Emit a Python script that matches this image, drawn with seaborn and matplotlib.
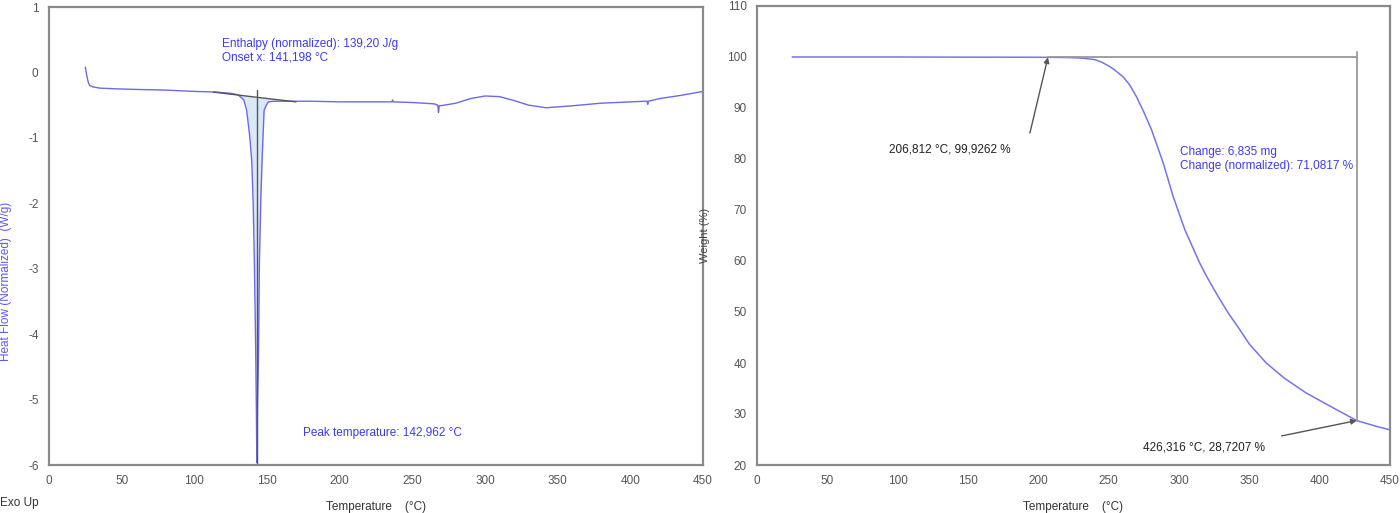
import matplotlib
matplotlib.use("Agg")
import matplotlib.pyplot as plt
import seaborn as sns
import numpy as np
import pandas as pd
from matplotlib.ticker import MultipleLocator

sns.set_style("white")
plt.rcParams['font.family'] = ['Liberation Sans', 'DejaVu Sans']
plt.rcParams['axes.unicode_minus'] = False

# ---------------- data ----------------
dsc_temp = [25, 26, 27, 28, 30, 35, 45, 60, 80, 100, 115, 125, 130, 134, 136, 138,
            139.5, 140.5, 141.3, 142.2, 142.7, 143.0, 143.5, 144.1, 144.8, 145.8, 146.6,
            148, 149.5, 151, 155, 165, 180, 200, 220, 236, 236.4, 236.8, 250, 265,
            267.5, 268, 268.5, 272, 280, 290, 300, 310, 320, 330, 342, 360, 380, 400,
            410, 411.5, 412, 412.5, 420, 435, 450]
dsc_flow = [0.08, -0.05, -0.15, -0.20, -0.22, -0.24, -0.25, -0.26, -0.27, -0.29, -0.30,
            -0.32, -0.34, -0.42, -0.58, -0.95, -1.35, -2.00, -2.88, -4.20, -5.20, -5.96,
            -5.00, -4.41, -2.88, -1.90, -1.35, -0.58, -0.50, -0.45, -0.44, -0.44, -0.44,
            -0.45, -0.45, -0.45, -0.42, -0.45, -0.46, -0.48, -0.50, -0.61, -0.51, -0.50,
            -0.47, -0.40, -0.36, -0.37, -0.43, -0.50, -0.54, -0.51, -0.47, -0.45, -0.44,
            -0.44, -0.49, -0.44, -0.40, -0.35, -0.29]

dsc_base_temp = [113, 143, 170]
dsc_base_flow = [-0.30, -0.38, -0.45]

peak_temp = 142.962
onset_temp = 141.198
enthalpy = "139,20"

tga_temp = [25, 50, 100, 150, 200, 206.8, 220, 230, 240, 245, 250.9, 255, 260.3, 265,
            269.8, 275, 280.5, 288.8, 295.9, 304.2, 314.9, 320, 327.9, 335, 343.3, 350,
            362, 375, 390, 405, 415, 426.3, 440, 450]
tga_weight = [100, 100, 100, 99.97, 99.95, 99.93, 99.9, 99.8, 99.5, 99.0, 98.1, 97.3,
              96.1, 94.5, 92.2, 89.2, 85.7, 79.2, 72.6, 66.1, 59.5, 56.8, 53.0, 49.8,
              46.5, 43.7, 40.0, 37.0, 34.2, 31.9, 30.4, 28.72, 27.6, 26.9]

tga_p1 = (206.812, 99.9262)
tga_p2 = (426.316, 28.7207)

dsc_df = pd.DataFrame({"T": dsc_temp, "HF": dsc_flow})
tga_df = pd.DataFrame({"T": tga_temp, "W": tga_weight})

# ---------------- figure ----------------
W, H = 1400, 513
fig = plt.figure(figsize=(14, 5.13), dpi=100)

def px_axes(x0, x1, ytop, ybot):
    return fig.add_axes([x0 / W, 1 - ybot / H, (x1 - x0) / W, (ybot - ytop) / H])

ax1 = px_axes(49, 703, 7, 465)
ax2 = px_axes(757, 1390, 6, 465)

blue_line = '#6a6aea'
blue_text = '#3c3cf0'
tick_col = '#444444'
spine_col = '#8a8a8a'

for ax in (ax1, ax2):
    for s in ax.spines.values():
        s.set_color(spine_col)
        s.set_linewidth(1.6)
    ax.tick_params(which='major', direction='out', length=4, width=0.8, colors=tick_col,
                   labelsize=8.5, labelcolor='#555555')
    ax.tick_params(which='minor', direction='out', length=2, width=0.8, colors=tick_col)
    ax.set_facecolor('white')

# ---------- DSC ----------
ax1.set_xlim(0, 450)
ax1.set_ylim(-6, 1)
ax1.xaxis.set_major_locator(MultipleLocator(50))
ax1.xaxis.set_minor_locator(MultipleLocator(10))
ax1.yaxis.set_major_locator(MultipleLocator(1))
ax1.yaxis.set_minor_locator(MultipleLocator(0.2))

mask_T = np.array(dsc_temp)
sel = (mask_T >= 130) & (mask_T <= 155)
base_interp = np.interp(mask_T[sel], dsc_base_temp, dsc_base_flow)
ax1.fill_between(mask_T[sel], np.array(dsc_flow)[sel], base_interp, color='#dbe8f8', lw=0)

sns.lineplot(data=dsc_df, x="T", y="HF", ax=ax1, color=blue_line, lw=1.0,
             sort=False, estimator=None)
sns.lineplot(x=dsc_base_temp, y=dsc_base_flow, ax=ax1, color='#555555', lw=1.0,
             sort=False, estimator=None)
ax1.plot([peak_temp, peak_temp], [-0.27, -6], color='#555555', lw=1.0)

ax1.text(119, 0.43, f"Enthalpy (normalized): {enthalpy} J/g", color=blue_text,
         fontsize=8.5, va='center')
ax1.text(119, 0.23, "Onset x: 141,198 °C", color=blue_text, fontsize=8.5, va='center')
ax1.text(175, -5.51, "Peak temperature: 142,962 °C", color=blue_text, fontsize=8.5,
         va='center')

ax1.set_xlabel("Temperature    (°C)", fontsize=8.5, color='#333333', labelpad=10)
ax1.set_ylabel("Heat Flow (Normalized)  (W/g)", fontsize=8.5, color='#5a5af0')
ax1.yaxis.set_label_coords(-0.056, 0.40)
fig.text(0.0, 1 - 503 / H, "Exo Up", fontsize=8.5, color='#333333', va='center')

# ---------- TGA ----------
ax2.set_xlim(0, 450)
ax2.set_ylim(20, 110)
ax2.xaxis.set_major_locator(MultipleLocator(50))
ax2.xaxis.set_minor_locator(MultipleLocator(10))
ax2.yaxis.set_major_locator(MultipleLocator(10))
ax2.yaxis.set_minor_locator(MultipleLocator(2.5))

sns.lineplot(data=tga_df, x="T", y="W", ax=ax2, color='#7474ec', lw=1.1,
             sort=False, estimator=None)
ax2.plot([tga_p1[0], tga_p2[0]], [100, 100], color='#999999', lw=1.3)
ax2.plot([tga_p2[0], tga_p2[0]], [101, tga_p2[1]], color='#999999', lw=1.3)

arrow_kw = dict(arrowstyle='-|>', color='#555555', lw=1.0, mutation_scale=8,
                shrinkA=0, shrinkB=0)
ax2.annotate("", xy=tga_p1, xytext=(194, 85.1), arrowprops=arrow_kw)
ax2.text(137, 81.8, "206,812 °C, 99,9262 %", fontsize=8.5, color='#222222',
         ha='center', va='center')
ax2.annotate("", xy=tga_p2, xytext=(373, 25.7), arrowprops=arrow_kw)
ax2.text(318, 23.5, "426,316 °C, 28,7207 %", fontsize=8.5, color='#222222',
         ha='center', va='center')

ax2.text(300.5, 81.4, "Change: 6,835 mg", color=blue_text, fontsize=8.5, va='center')
ax2.text(300.5, 78.6, "Change (normalized): 71,0817 %", color=blue_text, fontsize=8.5,
         va='center')

ax2.set_xlabel("Temperature    (°C)", fontsize=8.5, color='#333333', labelpad=10)
ax2.set_ylabel("Weight (%)", fontsize=8, color='#444444')
ax2.yaxis.set_label_coords(-0.075, 0.50)

fig.savefig("out.png", dpi=100, facecolor='white')
